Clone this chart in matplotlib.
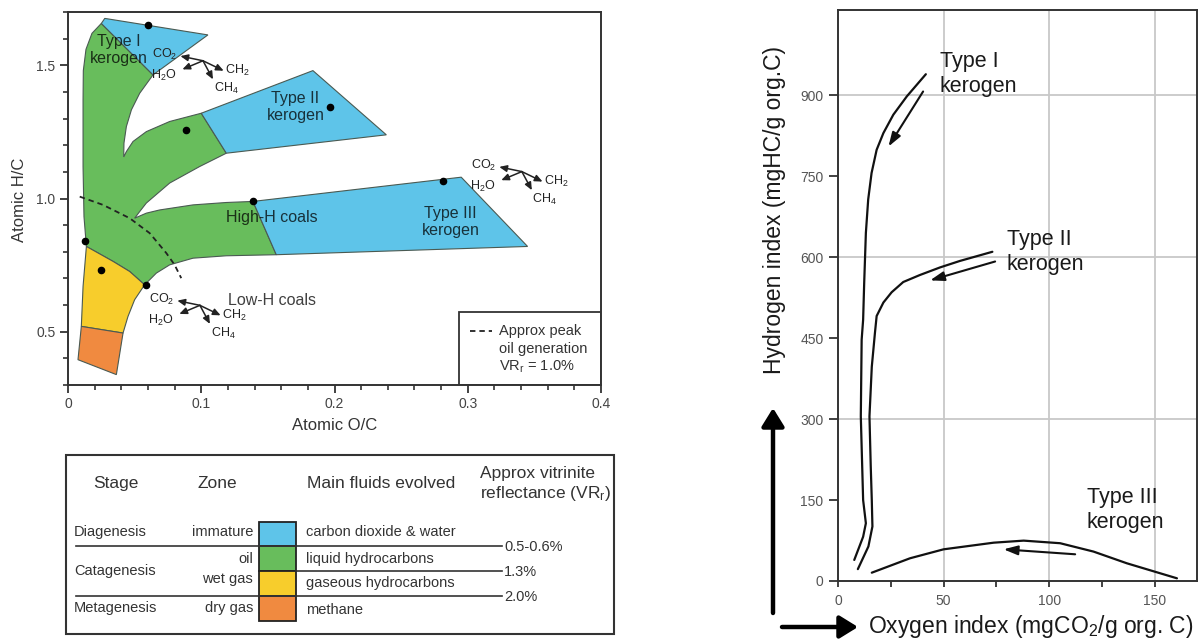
import matplotlib
matplotlib.use("Agg")
import matplotlib.pyplot as plt
from matplotlib.patches import Polygon, Rectangle
from matplotlib.ticker import MultipleLocator, FixedLocator
from matplotlib.transforms import ScaledTranslation

plt.rcParams['font.family'] = ['Liberation Sans', 'DejaVu Sans']
plt.rcParams['mathtext.fontset'] = 'custom'
plt.rcParams['mathtext.rm'] = 'Liberation Sans'
plt.rcParams['mathtext.it'] = 'Liberation Sans:italic'
plt.rcParams['mathtext.bf'] = 'Liberation Sans:bold'

# colours of the maturity zones
BLUE = '#5ec4e9'
GREEN = '#68bd5c'
YELLOW = '#f7cd2c'
ORANGE = '#f08a40'
EDGE = '#4a5a52'
INK = '#2a2a2a'

# ---------------- van Krevelen diagram (atomic O/C, atomic H/C) ----------------
type1_blue = [(0.025, 1.657), (0.0276, 1.676), (0.105, 1.614), (0.0638, 1.464)]
type2_blue = [(0.100, 1.320), (0.1838, 1.480), (0.2389, 1.239), (0.1188, 1.170)]
type3_blue = [(0.1388, 0.989), (0.2951, 1.080), (0.3449, 0.820), (0.1563, 0.789)]
oil_green = [
    (0.025, 1.657), (0.0638, 1.464), (0.0538, 1.395), (0.0476, 1.333), (0.0438, 1.270),
    (0.042, 1.208), (0.0418, 1.156), (0.0438, 1.176), (0.0488, 1.214), (0.0588, 1.251),
    (0.0763, 1.289), (0.100, 1.320), (0.1188, 1.170), (0.0988, 1.120), (0.0763, 1.058),
    (0.0588, 0.983), (0.0538, 0.951), (0.050, 0.926), (0.0588, 0.945), (0.0688, 0.957),
    (0.0938, 0.976), (0.1188, 0.985), (0.1388, 0.989), (0.1563, 0.789), (0.1188, 0.785),
    (0.0938, 0.776), (0.0763, 0.751), (0.0663, 0.720), (0.0575, 0.676), (0.0463, 0.726),
    (0.0338, 0.764), (0.0138, 0.820), (0.012, 0.932), (0.0113, 1.120), (0.0113, 1.370),
    (0.0115, 1.480), (0.0135, 1.560), (0.018, 1.620),
]
wetgas_yellow = [
    (0.0138, 0.820), (0.0338, 0.764), (0.0463, 0.726), (0.0575, 0.676), (0.050, 0.620),
    (0.045, 0.557), (0.0413, 0.495), (0.010, 0.520), (0.0113, 0.670),
]
drygas_orange = [(0.010, 0.520), (0.0413, 0.495), (0.0363, 0.339), (0.0075, 0.395)]

dot_oc = [0.060, 0.1963, 0.0888, 0.1388, 0.2811, 0.0125, 0.025, 0.0583]
dot_hc = [1.650, 1.345, 1.257, 0.989, 1.064, 0.839, 0.732, 0.676]

peak_oc = [0.0088, 0.0263, 0.0463, 0.0613, 0.0738, 0.080, 0.085]
peak_hc = [1.007, 0.976, 0.926, 0.870, 0.795, 0.751, 0.701]

# junctions of the little "fluids expelled" sketches
sketch_oc = [0.1013, 0.3406, 0.0990]
sketch_hc = [1.517, 1.101, 0.599]

# ---------------- pyrolysis diagram (oxygen index, hydrogen index) ----------------
type1_oi = [41.6, 32.6, 26.2, 21.5, 18.3, 15.9, 14.3, 13.2, 12.4, 11.9, 11.2, 10.8, 11.9, 13.2, 11.9, 7.7]
type1_hi = [939, 898, 864, 830, 799, 756, 707, 645, 552, 484, 447, 305, 150, 107, 82, 39]
type2_oi = [73.1, 57.7, 48.3, 38.8, 30.9, 25.4, 21.5, 18.3, 17.5, 16.0, 14.9, 15.5, 16.0, 16.3, 14.4, 9.4]
type2_hi = [610, 593, 581, 567, 554, 535, 516, 491, 460, 397, 305, 213, 150, 101, 64, 22]
type3_oi = [16.0, 34.1, 50.0, 73.7, 87.9, 105.2, 121.0, 136.8, 160.5]
type3_hi = [15.4, 42.1, 58.7, 71.0, 74.8, 70.0, 54.5, 32.8, 5.0]

# maturation arrows: (start, end)
trend_arrows = [((40.3, 907), (23.9, 805)), ((74.4, 592), (43.6, 557)), ((112.3, 49.5), (78.4, 58.7))]
grid_oi = [50, 100, 150]
grid_hi = [300, 600, 900]

# ---------------- maturity table ----------------
stages = ['Diagenesis', 'Catagenesis', 'Metagenesis']
zones = ['immature', 'oil', 'wet gas', 'dry gas']
fluids = ['carbon dioxide & water', 'liquid hydrocarbons', 'gaseous hydrocarbons', 'methane']
zone_colors = [BLUE, GREEN, YELLOW, ORANGE]
vr_labels = ['0.5-0.6%', '1.3%', '2.0%']

W, H = 1202, 640
fig = plt.figure(figsize=(W / 100, H / 100), dpi=100)


def axes_px(left, top, right, bottom):
    return fig.add_axes([left / W, 1 - bottom / H, (right - left) / W, (bottom - top) / H])


def style_spines(ax):
    for s in ax.spines.values():
        s.set_color('#333333')
        s.set_linewidth(1.4)


# ---- left: van Krevelen ----
ax = axes_px(68, 12, 601, 385)
for pts, col in [(oil_green, GREEN), (type1_blue, BLUE), (type2_blue, BLUE),
                 (type3_blue, BLUE), (wetgas_yellow, YELLOW), (drygas_orange, ORANGE)]:
    ax.add_patch(Polygon(pts, closed=True, fc=col, ec=EDGE, lw=0.8, zorder=2))
ax.plot(peak_oc, peak_hc, ls=(0, (3, 2.2)), color='#222222', lw=1.3, zorder=3)
ax.scatter(dot_oc, dot_hc, s=20, color='black', zorder=4)

ax.set_xlim(0, 0.4)
ax.set_ylim(0.3, 1.7)
ax.xaxis.set_major_locator(MultipleLocator(0.1))
ax.xaxis.set_minor_locator(MultipleLocator(0.02))
ax.yaxis.set_major_locator(MultipleLocator(0.5))
ax.yaxis.set_minor_locator(MultipleLocator(0.1))
ax.set_xticklabels(['0', '0.1', '0.2', '0.3', '0.4'])
ax.tick_params(which='major', direction='out', length=6, width=1.3, color='#333333',
               labelsize=10, labelcolor='#444444', pad=3)
ax.tick_params(which='minor', direction='out', length=3.5, width=1.2, color='#333333')
ax.set_xticks([0, 0.1, 0.2, 0.3, 0.4])
ax.set_xticklabels(['0', '0.1', '0.2', '0.3', '0.4'])
ax.set_yticks([0.5, 1.0, 1.5])
ax.set_yticklabels(['0.5', '1.0', '1.5'])
style_spines(ax)

txt = dict(color='black', alpha=0.75, fontsize=11.5, ha='center', va='center',
           linespacing=1.15, zorder=5)
ax.text(0.0381, 1.557, 'Type I\nkerogen', **txt)
ax.text(0.1707, 1.342, 'Type II\nkerogen', **txt)
ax.text(0.153, 0.927, 'High-H coals', **txt)
ax.text(0.2871, 0.912, 'Type III\nkerogen', **txt)
ax.text(0.153, 0.616, 'Low-H coals', **txt)


def shifted(dx, dy):
    return ax.transData + ScaledTranslation(dx / 100, -dy / 100, fig.dpi_scale_trans)


def fluid_sketch(jx, jy):
    labels = [('CO$_2$', -38, -6), ('H$_2$O', -39, 15), ('CH$_2$', 34, 10), ('CH$_4$', 23, 28)]
    heads = [(-22.6, -4.7), (-20.6, 8.6), (20.7, 10), (10, 18.6)]
    for lab, dx, dy in labels:
        ax.text(jx, jy, lab, transform=shifted(dx, dy), ha='center', va='center',
                fontsize=9, color='#222222', zorder=6)
    for hx, hy in heads:
        ax.annotate('', xy=(jx, jy), xycoords=shifted(hx, hy), xytext=(jx, jy),
                    textcoords='data',
                    arrowprops=dict(arrowstyle='-|>,head_length=0.5,head_width=0.22',
                                    lw=1.1, color='#222222', mutation_scale=9,
                                    shrinkA=0, shrinkB=0), zorder=6)


for jx, jy in zip(sketch_oc, sketch_hc):
    fluid_sketch(jx, jy)

# legend box for the peak-oil line
ax.add_patch(Rectangle((0.2938, 0.3), 0.4 - 0.2938, 0.573 - 0.3, fill=False,
                       ec='#333333', lw=1.3, zorder=6))
ax.plot([0.3017, 0.3182], [0.503, 0.503], ls=(0, (3, 2.2)), color='#222222', lw=1.3, zorder=6)
leg = dict(fontsize=10.5, color='#333333', ha='left', va='center', zorder=6)
ax.text(0.3238, 0.503, 'Approx peak', **leg)
ax.text(0.3238, 0.435, 'oil generation', **leg)
ax.text(0.3238, 0.367, r'VR$_\mathregular{r}$ = 1.0%', **leg)

# ---- right: pyrolysis HI / OI ----
bx = axes_px(838, 10, 1197, 581)
for g in grid_oi:
    bx.axvline(g, color='#c8c8c8', lw=1.3, zorder=0)
for g in grid_hi:
    bx.axhline(g, color='#c8c8c8', lw=1.3, zorder=0)
for xs, ys in [(type1_oi, type1_hi), (type2_oi, type2_hi), (type3_oi, type3_hi)]:
    bx.plot(xs, ys, color='#111111', lw=1.6, solid_capstyle='round')
for (x0, y0), (x1, y1) in trend_arrows:
    bx.annotate('', xy=(x1, y1), xytext=(x0, y0),
                arrowprops=dict(arrowstyle='-|>,head_length=0.6,head_width=0.2',
                                lw=1.5, color='#111111', mutation_scale=14,
                                shrinkA=0, shrinkB=0))
bx.set_xlim(0, 170)
bx.set_ylim(0, 1058)
bx.xaxis.set_major_locator(FixedLocator([0, 50, 100, 150]))
bx.xaxis.set_minor_locator(FixedLocator([25, 75, 125]))
bx.yaxis.set_major_locator(FixedLocator([0, 150, 300, 450, 600, 750, 900]))
bx.tick_params(axis='y', which='major', direction='out', length=6.5, width=1.3,
               color='#333333', labelsize=10, labelcolor='#555555', pad=4)
bx.tick_params(axis='x', which='both', direction='out', length=4.5, width=1.3,
               color='#333333', labelsize=10, labelcolor='#555555', pad=5)
style_spines(bx)

ker = dict(fontsize=15.5, color='#1a1a1a', ha='left', va='center', linespacing=1.25)
bx.text(48.3, 939, 'Type I\nkerogen', **ker)
bx.text(80.0, 609, 'Type II\nkerogen', **ker)
bx.text(117.9, 132, 'Type III\nkerogen', **ker)

# ---- maturity table ----
tab = axes_px(66, 455, 614, 634)
tab.set_xlim(0, 548)
tab.set_ylim(179, 0)
tab.axis('off')
tab.add_patch(Rectangle((0, 0), 548, 179, fill=False, ec='#333333', lw=1.5, clip_on=False))

row_top, row_h = 66.5, 24.8
for i, col in enumerate(zone_colors):
    tab.add_patch(Rectangle((193, row_top + i * row_h), 37, row_h, fc=col, ec='#222222', lw=1.3))

head = dict(fontsize=12.5, color='#333333', va='center')
tab.text(50, 28.5, 'Stage', ha='center', **head)
tab.text(151, 28.5, 'Zone', ha='center', **head)
tab.text(315, 28.5, 'Main fluids evolved', ha='center', **head)
tab.text(414, 18.5, 'Approx vitrinite', ha='left', **head)
tab.text(414, 38.6, r'reflectance (VR$_\mathregular{r}$)', ha='left', **head)

body = dict(fontsize=10.5, color='#333333', va='center')
for name, y in zip(stages, [77, 116.5, 152.8]):
    tab.text(8, y, name, ha='left', **body)
for name, y in zip(zones, [77, 104, 124, 152.8]):
    tab.text(187, y, name, ha='right', **body)
for name, y in zip(fluids, [77, 104, 127.6, 154.5]):
    tab.text(240, y, name, ha='left', **body)

bounds = [row_top + k * row_h for k in (1, 2, 3)]
line_starts = [10, 230, 10]
for y, x0, lab in zip(bounds, line_starts, vr_labels):
    tab.plot([x0, 436], [y, y], color='#333333', lw=1.2)
    tab.text(438, y + 1, lab, ha='left', **body)

# ---- overlay for axis titles and the big direction arrows ----
over = fig.add_axes([0, 0, 1, 1], zorder=10)
over.set_xlim(0, W)
over.set_ylim(H, 0)
over.axis('off')
over.text(20, 200, 'Atomic H/C', rotation=90, ha='center', va='center', fontsize=12, color='#333333')
over.text(335, 425, 'Atomic O/C', ha='center', va='center', fontsize=12, color='#333333')
over.text(774, 210, 'Hydrogen index (mgHC/g org.C)', rotation=90, ha='center', va='center',
          fontsize=16.5, color='#1a1a1a')
over.text(868, 626, r'Oxygen index (mgCO$_\mathregular{2}$/g org. C)', ha='left', va='center',
          fontsize=16.5, color='#1a1a1a')
big = dict(arrowstyle='-|>,head_length=0.55,head_width=0.34', lw=3.2, color='black',
           mutation_scale=20, shrinkA=0, shrinkB=0)
over.annotate('', xy=(773, 408), xytext=(773, 613), arrowprops=big)
over.annotate('', xy=(858, 627), xytext=(782, 627), arrowprops=big)

fig.savefig('out.png', dpi=100)
